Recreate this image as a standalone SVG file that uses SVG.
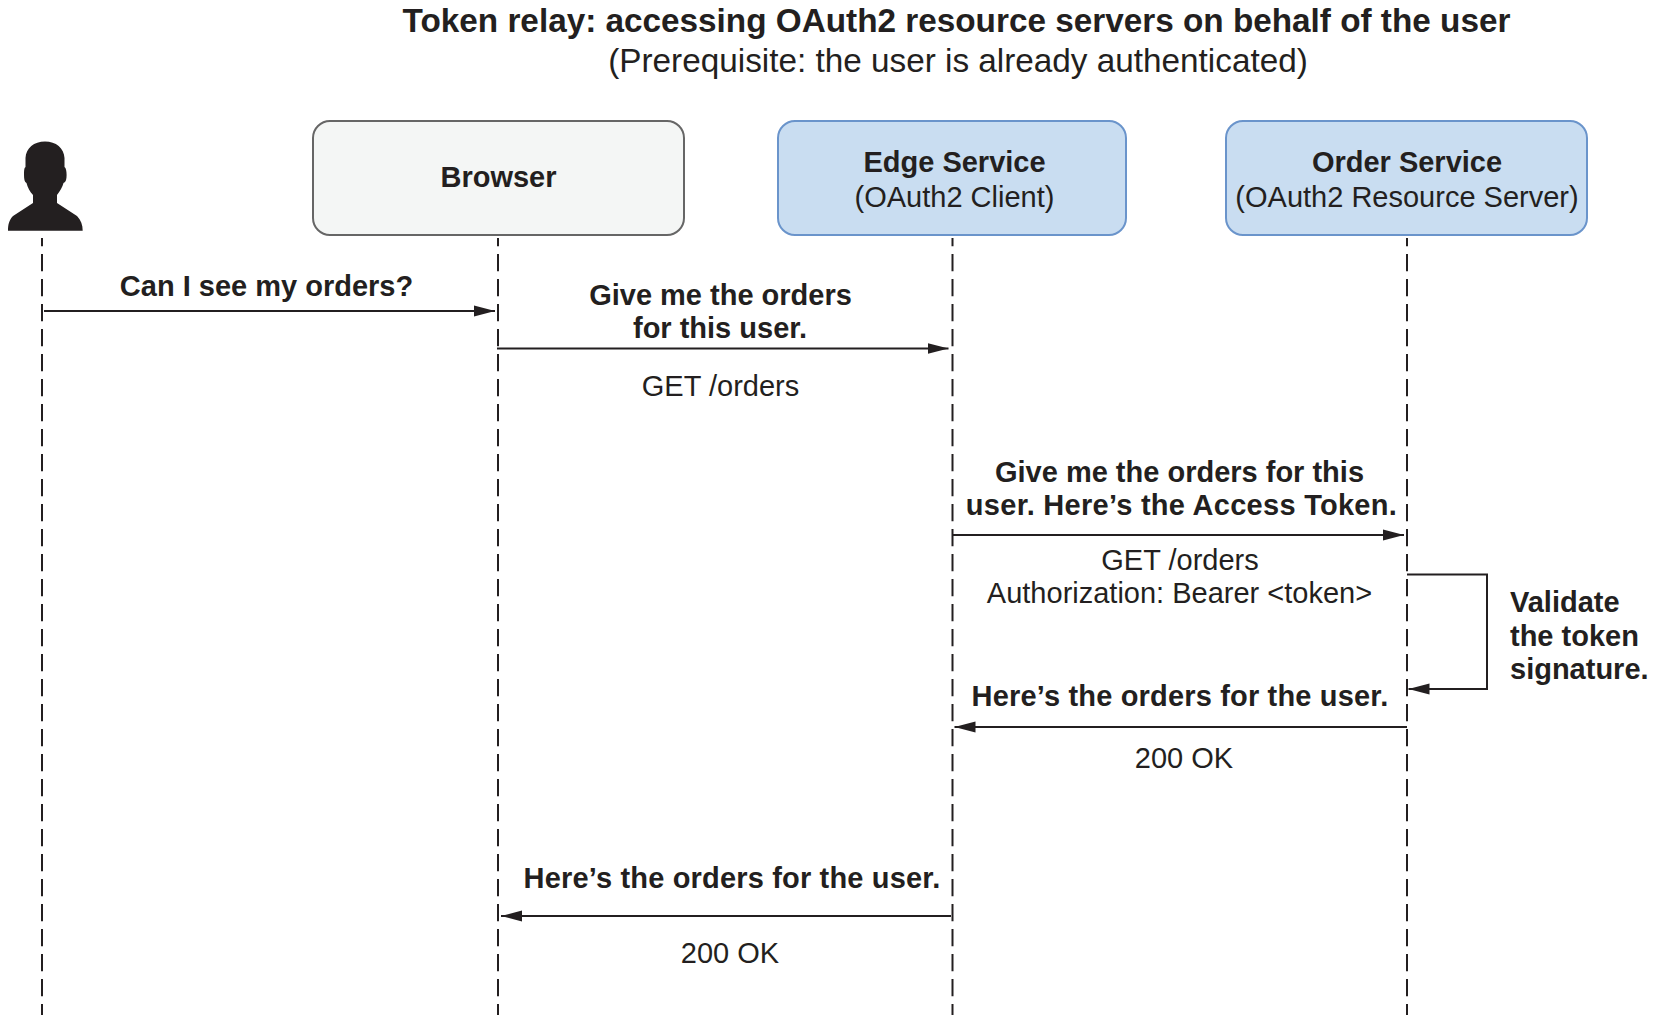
<svg xmlns="http://www.w3.org/2000/svg" width="1665" height="1035" viewBox="0 0 1665 1035">
<style>
text{font-family:"Liberation Sans",Arial,sans-serif;fill:#231f20;text-anchor:middle;font-size:29px}
.b{font-weight:bold}
.t{font-size:33.3px}
.l{text-anchor:start}
.s{letter-spacing:.17px}
.box{stroke-width:2}
.life{fill:none;stroke:#231f20;stroke-width:2;stroke-dasharray:17.3 7.7;stroke-dashoffset:9}
.conn{fill:none;stroke:#231f20;stroke-width:2}
</style>
<defs><marker id="a" markerUnits="userSpaceOnUse" markerWidth="22" markerHeight="12" refX="21" refY="6" orient="auto"><path d="M0 .5L21 6L0 11.500z" fill="#231f20"/></marker></defs>
<rect width="1665" height="1035" fill="#fff"/>
<g id="title"><text class="b t" x="956.500" y="32">Token relay: accessing OAuth2 resource servers on behalf of the user</text><text class="t" x="958" y="72">(Prerequisite: the user is already authenticated)</text></g>
<g id="user"><path fill="#231f20" d="M45 141.500C34 141.500 26 148 25.500 158L25.500 167C24 168 24 171 24 175C24 179 24.500 182 26.500 183C27.500 187 30 192 33 195L33 203L13 216C9 220 8 225 8 230.700L82.700 230.700C82.700 225 81 220 77 216L57 203L57 195C60 191 62.500 187 63.500 183C66 182 66.600 179 66.600 175C66.600 171 66 168 64.500 167L64.500 158C64 148 56 141.500 45 141.500Z"/></g>
<g id="browser"><rect class="box" x="313" y="121" width="371" height="114" rx="17" fill="#f4f6f5" stroke="#666"/><text class="b" x="498.500" y="187">Browser</text></g>
<g id="edge"><rect class="box" x="778" y="121" width="348" height="114" rx="17" fill="#c9ddf1" stroke="#6a94cb"/><text class="b" x="954.500" y="172">Edge Service</text><text x="954.500" y="207">(OAuth2 Client)</text></g>
<g id="order"><rect class="box" x="1226" y="121" width="361" height="114" rx="17" fill="#c9ddf1" stroke="#6a94cb"/><text class="b" x="1407" y="172">Order Service</text><text x="1407" y="207">(OAuth2 Resource Server)</text></g>
<g id="connectors">
<path class="life" d="M42 238V1015M498 238V1015M952.500 238V1015M1407 238V1015"/>
<path class="conn" marker-end="url(#a)" d="M44 311H495"/>
<path class="conn" marker-end="url(#a)" d="M497 348.500H948.500"/>
<path class="conn" marker-end="url(#a)" d="M953 535H1404"/>
<path class="conn" marker-end="url(#a)" d="M1407 574.500H1487V689H1408.500"/>
<path class="conn" marker-end="url(#a)" d="M1407 727H954.500"/>
<path class="conn" marker-end="url(#a)" d="M951 916H501"/>
</g>
<g id="labels">
<text class="b" x="266.500" y="296">Can I see my orders?</text>
<text class="b" x="720.500" y="305">Give me the orders</text>
<text class="b" x="720" y="338">for this user.</text>
<text x="720.500" y="396">GET /orders</text>
<text class="b" x="1179.500" y="482">Give me the orders for this</text>
<text class="b" x="1181.500" y="515" style="letter-spacing:.28px">user. Here’s the Access Token.</text>
<text x="1180" y="570">GET /orders</text>
<text x="1179.500" y="603">Authorization: Bearer &lt;token&gt;</text>
<text class="b l" x="1510" y="612">Validate</text>
<text class="b l" x="1510" y="646">the token</text>
<text class="b l" x="1510" y="679">signature.</text>
<text class="b s" x="1180" y="706">Here’s the orders for the user.</text>
<text x="1184" y="768">200 OK</text>
<text class="b s" x="732" y="888">Here’s the orders for the user.</text>
<text x="730" y="963">200 OK</text>
</g>
</svg>
